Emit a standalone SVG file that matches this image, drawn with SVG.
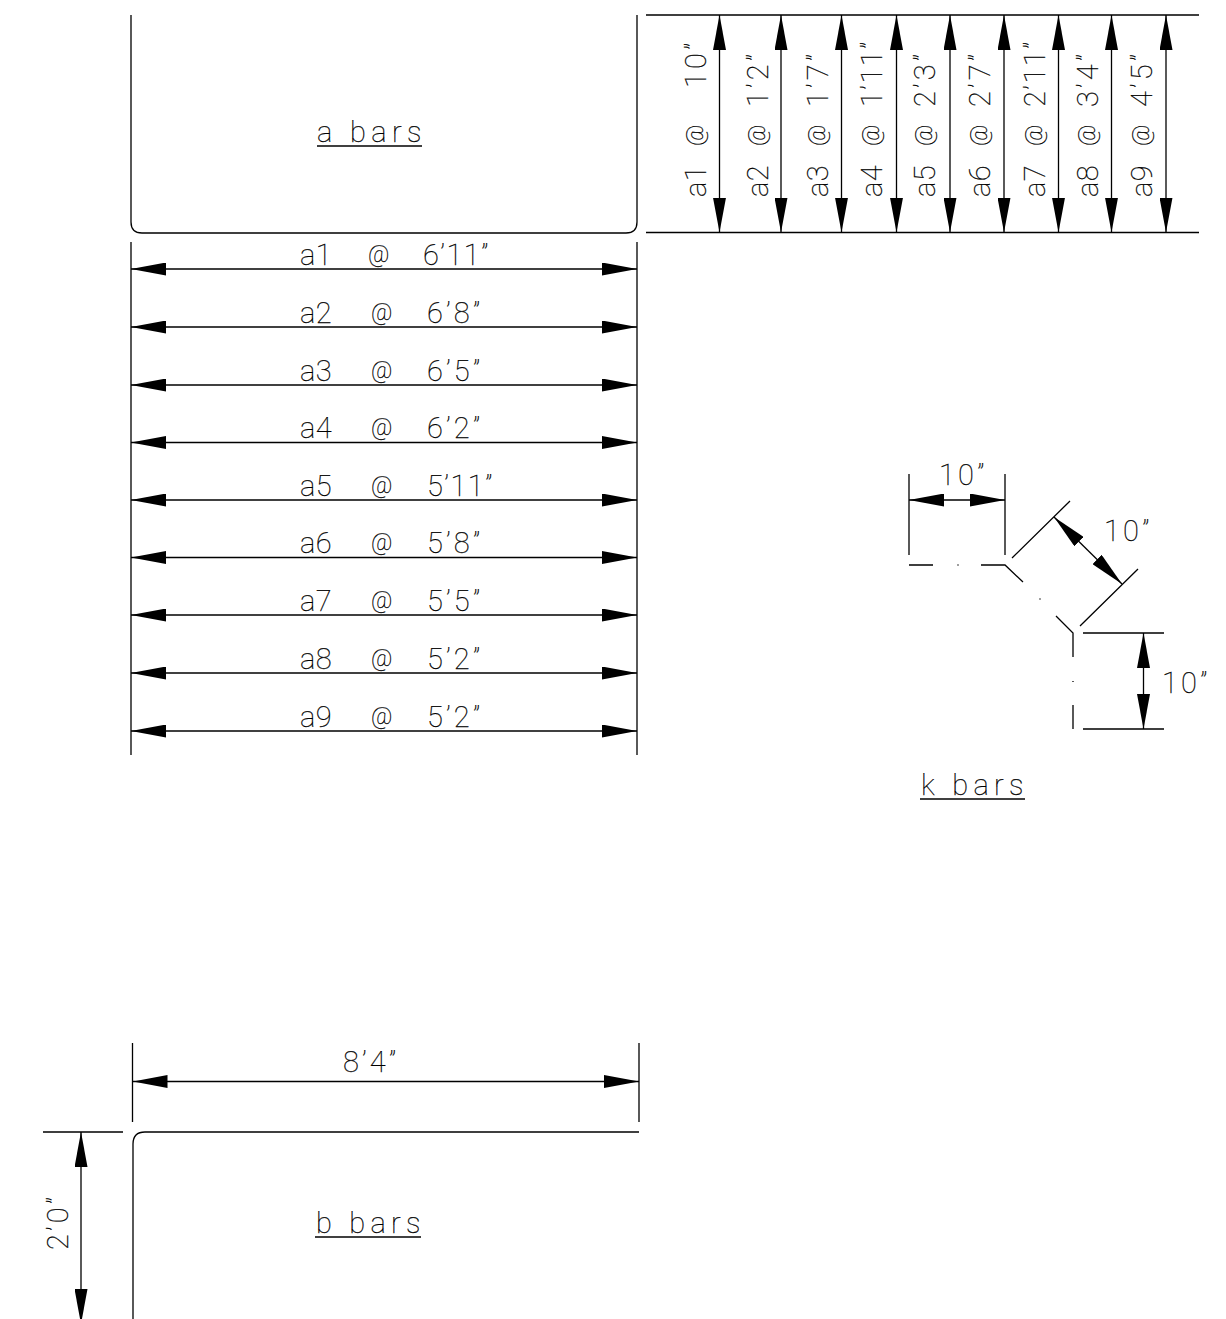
<svg xmlns="http://www.w3.org/2000/svg" width="1226" height="1319" viewBox="0 0 1226 1319">
<style>
.l{fill:none;stroke:#000;stroke-width:1.3}
.d{fill:none;stroke:#000;stroke-width:1.3;marker-start:url(#ah);marker-end:url(#ah)}
.t{font-family:Roboto,"Liberation Sans",sans-serif;font-weight:100;font-size:29px;letter-spacing:.5px;fill:#000;stroke:#000;stroke-width:.25}
.n{letter-spacing:3.200px}
.m{letter-spacing:1.500px}
.at{font-size:23px;baseline-shift:3px}
</style>
<defs>
<marker id="ah" markerUnits="userSpaceOnUse" markerWidth="35" markerHeight="13" refX="35" refY="6.5" orient="auto-start-reverse"><path d="M0 0L35 6.5L0 13z" fill="#000"/></marker>
</defs>
<rect width="1226" height="1319" fill="#fff"/>
<g id="a-bars">
<path class="l" d="M131 15V222Q131 233 142 233H626Q637 233 637 222V15"/>
<text class="t" x="317" y="142" textLength="105" lengthAdjust="spacing">a  bars</text>
<path class="l" d="M317 146H422"/>
</g>
<g id="connectors">
<path class="l" d="M131 242V755M637 242V755M646 15H1199M646 232.500H1199"/>
<path class="d" d="M131 269H637"/><path class="d" d="M131 327H637"/><path class="d" d="M131 385H637"/><path class="d" d="M131 442.500H637"/><path class="d" d="M131 500H637"/><path class="d" d="M131 557.500H637"/><path class="d" d="M131 615H637"/><path class="d" d="M131 673H637"/><path class="d" d="M131 731H637"/>
<path class="d" d="M719.500 15V232.500"/><path class="d" d="M781 15V232.500"/><path class="d" d="M841.500 15V232.500"/><path class="d" d="M896.500 15V232.500"/><path class="d" d="M950 15V232.500"/><path class="d" d="M1004 15V232.500"/><path class="d" d="M1058.500 15V232.500"/><path class="d" d="M1111.500 15V232.500"/><path class="d" d="M1166 15V232.500"/>
<path class="l" d="M909 474V555M1005 474V555M1012 558L1070 501M1080 626L1138 569M1083 633H1164M1083 729H1164"/>
<path class="d" d="M909 500H1005"/>
<path class="d" d="M1054 517L1122 584"/>
<path class="d" d="M1143.500 633V729"/>
<path class="l" d="M132.500 1043V1122M639 1043V1122M43 1132H123"/>
<path class="d" d="M132.500 1081.500H639"/>
<path class="d" d="M81 1132V1324"/>
</g>
<g id="a-length-labels">
<text class="t" y="265"><tspan x="300">a1</tspan> <tspan x="368" class="at">@</tspan> <tspan x="423" class="m">6’11”</tspan></text>
<text class="t" y="323"><tspan x="300">a2</tspan> <tspan x="371" class="at">@</tspan> <tspan x="427" class="n">6’8”</tspan></text>
<text class="t" y="381"><tspan x="300">a3</tspan> <tspan x="371" class="at">@</tspan> <tspan x="427" class="n">6’5”</tspan></text>
<text class="t" y="438"><tspan x="300">a4</tspan> <tspan x="371" class="at">@</tspan> <tspan x="427" class="n">6’2”</tspan></text>
<text class="t" y="496"><tspan x="300">a5</tspan> <tspan x="371" class="at">@</tspan> <tspan x="427" class="m">5’11”</tspan></text>
<text class="t" y="553"><tspan x="300">a6</tspan> <tspan x="371" class="at">@</tspan> <tspan x="427" class="n">5’8”</tspan></text>
<text class="t" y="611"><tspan x="300">a7</tspan> <tspan x="371" class="at">@</tspan> <tspan x="427" class="n">5’5”</tspan></text>
<text class="t" y="669"><tspan x="300">a8</tspan> <tspan x="371" class="at">@</tspan> <tspan x="427" class="n">5’2”</tspan></text>
<text class="t" y="727"><tspan x="300">a9</tspan> <tspan x="371" class="at">@</tspan> <tspan x="427" class="n">5’2”</tspan></text>
</g>
<g id="a-height-labels">
<text class="t" transform="translate(706 197) rotate(-90)"><tspan x="0">a1</tspan> <tspan x="51" class="at">@</tspan> <tspan x="109" class="n">10”</tspan></text>
<text class="t" transform="translate(768 197) rotate(-90)"><tspan x="0">a2</tspan> <tspan x="51" class="at">@</tspan> <tspan x="90" class="n">1’2”</tspan></text>
<text class="t" transform="translate(828 197) rotate(-90)"><tspan x="0">a3</tspan> <tspan x="51" class="at">@</tspan> <tspan x="90" class="n">1’7”</tspan></text>
<text class="t" transform="translate(882 197) rotate(-90)"><tspan x="0">a4</tspan> <tspan x="51" class="at">@</tspan> <tspan x="90" class="m">1’11”</tspan></text>
<text class="t" transform="translate(935 197) rotate(-90)"><tspan x="0">a5</tspan> <tspan x="51" class="at">@</tspan> <tspan x="90" class="n">2’3”</tspan></text>
<text class="t" transform="translate(990 197) rotate(-90)"><tspan x="0">a6</tspan> <tspan x="51" class="at">@</tspan> <tspan x="90" class="n">2’7”</tspan></text>
<text class="t" transform="translate(1045 197) rotate(-90)"><tspan x="0">a7</tspan> <tspan x="51" class="at">@</tspan> <tspan x="90" class="m">2’11”</tspan></text>
<text class="t" transform="translate(1098 197) rotate(-90)"><tspan x="0">a8</tspan> <tspan x="51" class="at">@</tspan> <tspan x="90" class="n">3’4”</tspan></text>
<text class="t" transform="translate(1152 197) rotate(-90)"><tspan x="0">a9</tspan> <tspan x="51" class="at">@</tspan> <tspan x="90" class="n">4’5”</tspan></text>
</g>
<g id="k-bars">
<path class="l" d="M909 565H933M957.500 565H958.500M981 565H1005L1023 582M1039.500 599H1040.500M1056 616L1073 633V657M1073 681V682M1073 705V729"/>
<text class="t n" x="939" y="485">10”</text>
<text class="t n" x="1104" y="541">10”</text>
<text class="t n" x="1162" y="693">10”</text>
<text class="t" x="921" y="795" textLength="103" lengthAdjust="spacing">k  bars</text>
<path class="l" d="M920 799H1025"/>
</g>
<g id="b-bars">
<path class="l" d="M639 1132H145Q133 1132 133 1144V1319"/>
<text class="t n" x="343" y="1072">8’4”</text>
<text class="t n" transform="translate(68 1250) rotate(-90)">2’0”</text>
<text class="t" x="316" y="1233" textLength="105" lengthAdjust="spacing">b  bars</text>
<path class="l" d="M315 1237H421"/>
</g>
</svg>
